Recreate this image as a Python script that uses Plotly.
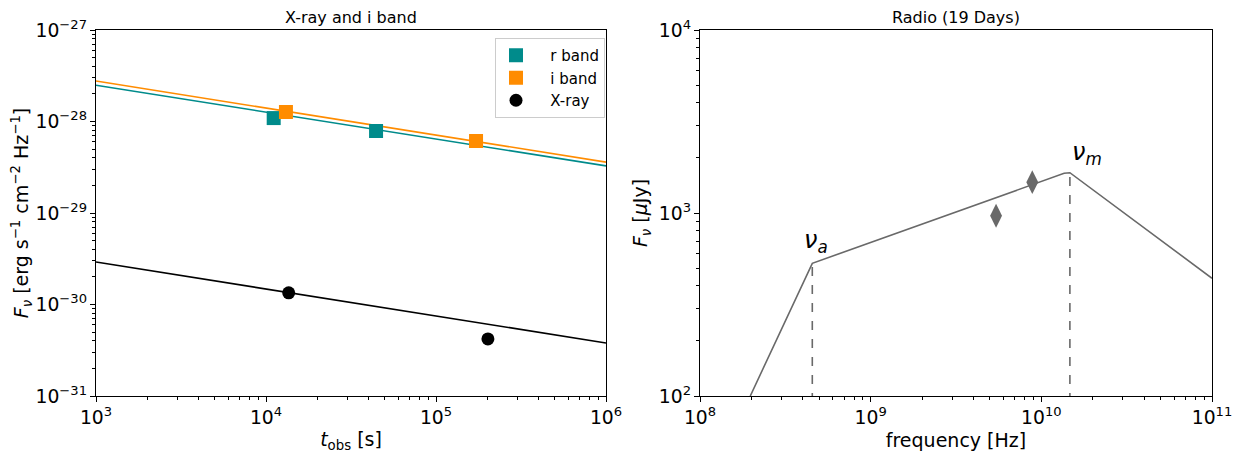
import plotly.graph_objects as go

# ---- data: left panel (X-ray and optical light curves) ----
r_t = [1.11e4, 4.44e4]
r_f = [1.09e-28, 7.87e-29]
i_t = [1.31e4, 1.72e5]
i_f = [1.27e-28, 6.12e-29]
x_t = [1.36e4, 2.02e5]
x_f = [1.34e-30, 4.2e-31]

fit_t = [1e3, 1e6]
r_fit = [2.49e-28, 3.27e-29]
i_fit = [2.77e-28, 3.60e-29]
x_fit = [2.91e-30, 3.80e-31]

# ---- data: right panel (radio SED at 19 days) ----
sed_nu = [1.97e8, 4.15e8, 4.55e8, 1.36e10, 1.47e10, 1e11]
sed_f = [100, 449, 531, 1648, 1660, 440]
obs_nu = [5.43e9, 8.85e9]
obs_f = [966, 1473]
nu_a, f_a = 4.55e8, 531
nu_m, f_m = 1.47e10, 1660

TEAL = "#008B8B"
ORANGE = "#FF8C00"
GRAY = "#696969"
FONT = "DejaVu Sans"
PAD = "\u00a0\u00a0\u00a0"

fig = go.Figure()

# left panel
fig.add_trace(go.Scatter(x=fit_t, y=r_fit, mode="lines", line=dict(color=TEAL, width=1.6),
                         showlegend=False, xaxis="x", yaxis="y"))
fig.add_trace(go.Scatter(x=fit_t, y=i_fit, mode="lines", line=dict(color=ORANGE, width=1.6),
                         showlegend=False, xaxis="x", yaxis="y"))
fig.add_trace(go.Scatter(x=fit_t, y=x_fit, mode="lines", line=dict(color="black", width=1.6),
                         showlegend=False, xaxis="x", yaxis="y"))
fig.add_trace(go.Scatter(x=r_t, y=r_f, mode="markers", name=PAD + "r band",
                         marker=dict(symbol="square", size=14, color=TEAL), xaxis="x", yaxis="y"))
fig.add_trace(go.Scatter(x=i_t, y=i_f, mode="markers", name=PAD + "i band",
                         marker=dict(symbol="square", size=14, color=ORANGE), xaxis="x", yaxis="y"))
fig.add_trace(go.Scatter(x=x_t, y=x_f, mode="markers", name=PAD + "X-ray",
                         marker=dict(symbol="circle", size=13, color="black"), xaxis="x", yaxis="y"))

# right panel
fig.add_trace(go.Scatter(x=sed_nu, y=sed_f, mode="lines", line=dict(color=GRAY, width=1.6),
                         showlegend=False, xaxis="x2", yaxis="y2"))
fig.add_trace(go.Scatter(x=[nu_a, nu_a], y=[1, f_a], mode="lines",
                         line=dict(color=GRAY, width=1.6, dash="dash"),
                         showlegend=False, xaxis="x2", yaxis="y2"))
fig.add_trace(go.Scatter(x=[nu_m, nu_m], y=[1, f_m], mode="lines",
                         line=dict(color=GRAY, width=1.6, dash="dash"),
                         showlegend=False, xaxis="x2", yaxis="y2"))
fig.add_trace(go.Scatter(x=obs_nu, y=obs_f, mode="markers",
                         marker=dict(symbol="diamond-tall", size=17, color=GRAY),
                         showlegend=False, xaxis="x2", yaxis="y2"))

# page body has an 8px margin; figure coordinates are page coordinates minus 8
OFF = 8
W, H = 1242 - OFF, 453 - OFF
L1, R1 = 96 - OFF, 606 - OFF
L2, R2 = 700 - OFF, 1212 - OFF
TOP, BOT = 30 - OFF, 396 - OFF

axcommon = dict(type="log", showgrid=False, zeroline=False, showline=True, linecolor="black",
                linewidth=1, mirror=True, ticks="outside", ticklen=5, tickcolor="black",
                automargin=False,
                exponentformat="power", tickfont=dict(size=15, color="black", family=FONT),
                minor=dict(ticks="outside", ticklen=3, tickcolor="black", showgrid=False, dtick="D1"))

fig.update_layout(
    width=W, height=H,
    margin=dict(l=0, r=0, t=TOP, b=H - BOT, autoexpand=False),
    plot_bgcolor="white", paper_bgcolor="white",
    font=dict(family=FONT, color="black"),
    xaxis=dict(axcommon, domain=[L1 / W, R1 / W], range=[3, 6], dtick=1, anchor="y",
               title=dict(text="<i>t</i><sub>obs</sub> [s]", font=dict(size=19), standoff=6)),
    yaxis=dict(axcommon, domain=[0, 1], range=[-31, -27], dtick=1, anchor="x",
               title=dict(text="<i>F</i><sub><i>ν</i></sub> [erg s<sup>−1</sup> cm<sup>−2</sup> Hz<sup>−1</sup>]",
                          font=dict(size=19), standoff=6)),
    xaxis2=dict(axcommon, domain=[L2 / W, R2 / W], range=[8, 11], dtick=1, anchor="y2",
                title=dict(text="frequency [Hz]", font=dict(size=19), standoff=6)),
    yaxis2=dict(axcommon, domain=[0, 1], range=[2, 4], dtick=1, anchor="x2",
                title=dict(text="<i>F</i><sub><i>ν</i></sub> [<i>μ</i>Jy]", font=dict(size=19), standoff=6)),
    legend=dict(x=(495 - OFF) / W, y=1 - (38 - 30) / (BOT - TOP), xanchor="left", yanchor="top",
                bgcolor="white", bordercolor="#cccccc", borderwidth=1,
                font=dict(size=15, family=FONT), itemsizing="trace", itemwidth=30),
    annotations=[
        dict(text="X-ray and i band", x=(L1 + R1) / 2 / W, y=1, xref="paper", yref="paper",
             xanchor="center", yanchor="bottom", showarrow=False, font=dict(size=16), yshift=1),
        dict(text="Radio (19 Days)", x=(L2 + R2) / 2 / W, y=1, xref="paper", yref="paper",
             xanchor="center", yanchor="bottom", showarrow=False, font=dict(size=16), yshift=1),
        dict(text="<i>ν</i><sub><i>a</i></sub>", x=8.658, y=2.725, xref="x2", yref="y2",
             xanchor="center", yanchor="bottom", showarrow=False, font=dict(size=24), xshift=4, yshift=4),
        dict(text="<i>ν</i><sub><i>m</i></sub>", x=10.167, y=3.22, xref="x2", yref="y2",
             xanchor="center", yanchor="bottom", showarrow=False, font=dict(size=24), xshift=17, yshift=2),
    ],
)

fig.write_html("out.html")
